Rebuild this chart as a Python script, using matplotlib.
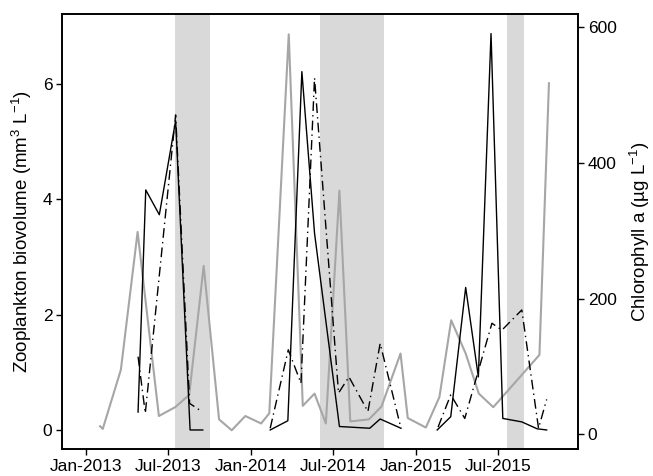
import pandas as pd
import matplotlib
matplotlib.use('Agg')
import matplotlib.pyplot as plt
import matplotlib.dates as mdates

plt.rcParams['font.family'] = ['Liberation Sans', 'DejaVu Sans']
plt.rcParams['mathtext.fontset'] = 'custom'
plt.rcParams['mathtext.rm'] = 'Liberation Sans'
plt.rcParams['mathtext.it'] = 'Liberation Sans:italic'
plt.rcParams['mathtext.bf'] = 'Liberation Sans:bold'

# chlorophyll a (right axis, grey)
chl_dates = ['2013-02-01', '2013-02-07', '2013-03-19', '2013-04-25', '2013-06-11',
             '2013-07-17', '2013-08-17', '2013-09-18', '2013-10-22', '2013-11-19',
             '2013-12-19', '2014-01-23', '2014-02-10', '2014-03-25', '2014-04-25',
             '2014-05-21', '2014-06-15', '2014-07-15', '2014-08-08', '2014-09-18',
             '2014-10-16', '2014-11-27', '2014-12-13', '2015-01-22', '2015-02-21',
             '2015-03-19', '2015-04-20', '2015-05-19', '2015-06-20', '2015-09-30',
             '2015-10-21']
chl_vals = [12, 8, 95, 298, 27, 40, 58, 248, 22, 6, 27, 16, 31, 589, 42, 60, 16,
            359, 19, 22, 41, 119, 24, 10, 55, 168, 119, 60, 40, 117, 517]

# zooplankton biovolume, solid line (None = gap between years)
zs_dates = ['2013-04-26', '2013-05-13', '2013-06-12', '2013-07-18', '2013-08-19', '2013-09-16',
            None,
            '2014-02-12', '2014-03-23', '2014-04-23', '2014-05-21', '2014-07-15',
            '2014-09-20', '2014-10-13', '2014-11-28',
            None,
            '2015-02-16', '2015-03-18', '2015-04-20', '2015-05-18', '2015-06-15',
            '2015-07-11', '2015-08-22', '2015-09-25', '2015-10-16']
zs_vals = [0.31, 4.16, 3.73, 5.36, 0.0, 0.0,
           None,
           0.0, 0.16, 6.21, 3.41, 0.06, 0.03, 0.19, 0.03,
           None,
           0.0, 0.23, 2.47, 0.92, 6.87, 0.20, 0.14, 0.02, 0.0]

# zooplankton biovolume, dash-dot line
zd_dates = ['2013-04-26', '2013-05-12', '2013-07-18', '2013-08-18', '2013-09-14',
            None,
            '2014-02-12', '2014-03-24', '2014-04-21', '2014-05-21', '2014-07-13',
            '2014-08-05', '2014-09-16', '2014-10-13', '2014-11-28',
            None,
            '2015-02-18', '2015-03-18', '2015-04-18', '2015-06-17', '2015-07-09',
            '2015-08-22', '2015-09-28', '2015-10-16']
zd_vals = [1.27, 0.29, 5.46, 0.46, 0.32,
           None,
           0.03, 1.39, 0.81, 6.10, 0.64, 0.92, 0.32, 1.50, 0.03,
           None,
           0.05, 0.61, 0.20, 1.85, 1.73, 2.08, 0.03, 0.53]

# shaded periods
shade_start = ['2013-07-16', '2014-06-02', '2015-07-20']
shade_end = ['2013-10-03', '2014-10-21', '2015-08-26']


def segments(dates, vals):
    out, cur_d, cur_v = [], [], []
    for d, v in zip(dates, vals):
        if d is None:
            out.append((cur_d, cur_v))
            cur_d, cur_v = [], []
        else:
            cur_d.append(pd.Timestamp(d))
            cur_v.append(v)
    out.append((cur_d, cur_v))
    return out


fig = plt.figure(figsize=(6.53, 4.76), dpi=100)
ax = fig.add_axes([0.095, 0.0567, 0.79, 0.914])
ax2 = ax.twinx()
ax.set_zorder(ax2.get_zorder() + 1)
ax.patch.set_visible(False)

for s, e in zip(shade_start, shade_end):
    ax2.axvspan(pd.Timestamp(s), pd.Timestamp(e), color='#d9d9d9', lw=0, zorder=0)

ax2.plot(pd.to_datetime(chl_dates), chl_vals, color='#a6a6a6', lw=1.5, zorder=2)

for d, v in segments(zs_dates, zs_vals):
    ax.plot(d, v, color='black', lw=1.0)
for d, v in segments(zd_dates, zd_vals):
    ax.plot(d, v, color='black', lw=1.0, linestyle=(0, (7, 3, 1, 3)))

ax.set_xlim(pd.Timestamp('2012-11-09'), pd.Timestamp('2015-12-24'))
ax.set_ylim(-0.33, 7.21)
ax2.set_ylim(-21.6, 619)

ticks = pd.to_datetime(['2013-01-01', '2013-07-01', '2014-01-01', '2014-07-01',
                        '2015-01-01', '2015-07-01'])
ax.set_xticks(ticks)
ax.xaxis.set_major_formatter(mdates.DateFormatter('%b-%Y'))
ax.set_yticks([0, 2, 4, 6])
ax2.set_yticks([0, 200, 400, 600])

for a in (ax, ax2):
    a.tick_params(labelsize=12.5, length=4, width=1, direction='out', pad=3)
    for sp in a.spines.values():
        sp.set_linewidth(1.2)

ax.set_ylabel('Zooplankton biovolume (mm$^{3}$ L$^{-1}$)', fontsize=13.5, labelpad=6)
ax2.set_ylabel('Chlorophyll a (\u00b5g L$^{-1}$)', fontsize=13.5, labelpad=8)

fig.savefig('out.png', dpi=100)
